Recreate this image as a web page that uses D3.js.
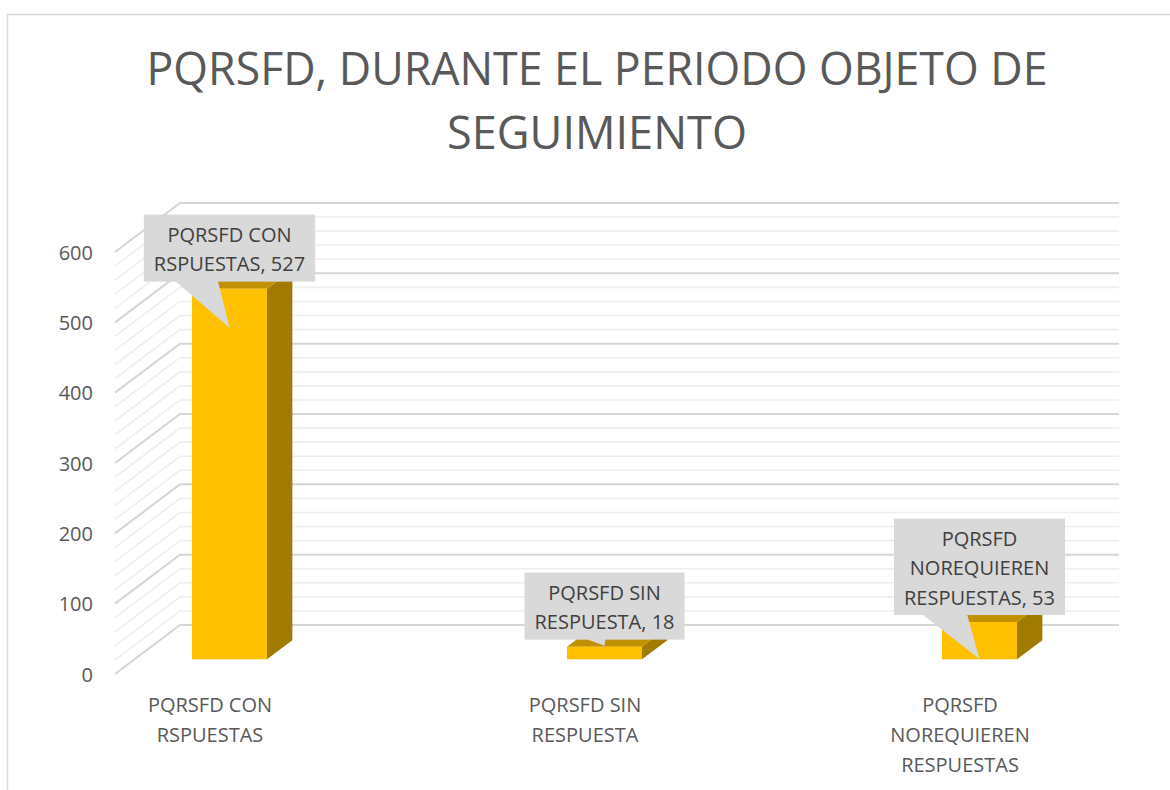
<!DOCTYPE html>
<html><head><meta charset="utf-8">
<script src="https://cdn.jsdelivr.net/npm/d3@7"></script>
<style>
html,body{margin:0;padding:0;background:#fff;}
svg{display:block;font-family:"Open Sans",sans-serif;}
</style></head>
<body>
<svg id="chart" width="1170" height="790"></svg>
<script>
const titleLines = ["PQRSFD, DURANTE EL PERIODO OBJETO DE", "SEGUIMIENTO"];
const categories = ["PQRSFD CON RSPUESTAS", "PQRSFD SIN RESPUESTA", "PQRSFD NOREQUIEREN RESPUESTAS"];
const categoryLabelLines = [["PQRSFD CON", "RSPUESTAS"], ["PQRSFD SIN", "RESPUESTA"], ["PQRSFD", "NOREQUIEREN", "RESPUESTAS"]];
const values = [527, 18, 53];
const calloutLines = [["PQRSFD CON", "RSPUESTAS, 527"], ["PQRSFD SIN", "RESPUESTA, 18"], ["PQRSFD", "NOREQUIEREN", "RESPUESTAS, 53"]];
const yTicks = [0, 100, 200, 300, 400, 500, 600];
const yMinorTicks = d3.range(0, 601, 20);

const svg = d3.select("#chart");
const W = 1170, H = 790;

// chart border
svg.append("rect").attr("x", 7.5).attr("y", 14.5).attr("width", W).attr("height", H)
  .attr("fill", "#fff").attr("stroke", "#d9d9d9").attr("stroke-width", 1.5);

// title
const titleFont = 46;
const titleWidths = [901, 300];
titleLines.forEach((t, i) => {
  svg.append("text").attr("x", 597).attr("y", 85 + i * 64)
    .attr("text-anchor", "middle").attr("font-size", titleFont).attr("fill", "#595959")
    .attr("textLength", titleWidths[i]).attr("lengthAdjust", "spacingAndGlyphs")
    .text(t);
});

// 3D geometry
const DX = 65, DY = -49;           // depth vector front -> back
const x = d3.scalePoint().domain(categories).range([210, 960]);
const y = d3.scaleLinear().domain([0, 600]).range([674, 252]);
const frontLeft = 115, backRight = 1119;
const P = (xf, v, f) => [xf + f * DX, y(v) + f * DY];

const grid = svg.append("g");
yMinorTicks.forEach(v => {
  const major = v % 100 === 0;
  const col = major ? "#d6d6d6" : "#eeeeee";
  const sw = major ? 2 : 1.6;
  const a = P(frontLeft, v, 0), b = P(frontLeft, v, 1);
  grid.append("path").attr("d", d3.line()([a, b, [backRight, b[1]]]))
    .attr("fill", "none").attr("stroke", col).attr("stroke-width", sw);
});

// y tick labels
svg.append("g").selectAll("text").data(yTicks).join("text")
  .attr("x", 93).attr("y", d => y(d) + 7.5)
  .attr("text-anchor", "end").attr("font-size", 20).attr("fill", "#595959")
  .text(d => d);

// category labels
categories.forEach((c, i) => {
  categoryLabelLines[i].forEach((ln, j) => {
    svg.append("text").attr("x", x(c)).attr("y", 712 + j * 30)
      .attr("text-anchor", "middle").attr("font-size", 20).attr("fill", "#595959")
      .text(ln);
  });
});

// bars
const half = 37.5, f0 = 0.3, f1 = 0.69;
const bars = svg.append("g");
categories.forEach((c, i) => {
  const v = values[i];
  const xl = x(c) - half, xr = x(c) + half;
  const fbl = P(xl, 0, f0), fbr = P(xr, 0, f0), ftl = P(xl, v, f0), ftr = P(xr, v, f0);
  const bbr = P(xr, 0, f1), btr = P(xr, v, f1), btl = P(xl, v, f1);
  const line = d3.line();
  bars.append("path").attr("d", line([fbr, bbr, btr, ftr]) + "Z").attr("fill", "#A17A00");
  bars.append("path").attr("d", line([ftl, ftr, btr, btl]) + "Z").attr("fill", "#C29100");
  bars.append("path").attr("d", line([fbl, fbr, ftr, ftl]) + "Z").attr("fill", "#FFC000");
});

// callouts
const callouts = svg.append("g");
const tipOffsets = [39, -1, 37];
const baseOffsets = [[31, 74], [61, 81], [28, 73]];
categories.forEach((c, i) => {
  const v = values[i];
  const cx = x(c) + f0 * DX;
  const top = y(v) + f0 * DY;
  const bottomBar = y(0) + f0 * DY;
  const lines = calloutLines[i];
  const g = callouts.append("g");
  const texts = lines.map(ln => g.append("text").attr("font-size", 20).attr("fill", "#404040")
    .attr("text-anchor", "middle").text(ln));
  const tw = d3.max(texts, t => t.node().getComputedTextLength());
  const bw = tw + 20;
  const bh = lines.length * 29.5 + 8;
  const by1 = top - 7, by0 = by1 - bh;
  const bx0 = cx - bw / 2;
  const tipY = Math.min(top + tipOffsets[i], bottomBar);
  const pointer = [[bx0 + baseOffsets[i][0], by1 - 1], [bx0 + baseOffsets[i][1], by1 - 1], [cx, tipY]];
  g.insert("path", "text").attr("d", d3.line()(pointer) + "Z").attr("fill", "#d9d9d9");
  g.insert("rect", "text").attr("x", bx0).attr("y", by0).attr("width", bw).attr("height", bh).attr("fill", "#d9d9d9");
  texts.forEach((t, j) => t.attr("x", cx).attr("y", by0 + 27 + j * 29.5));
});
</script>
</body></html>
